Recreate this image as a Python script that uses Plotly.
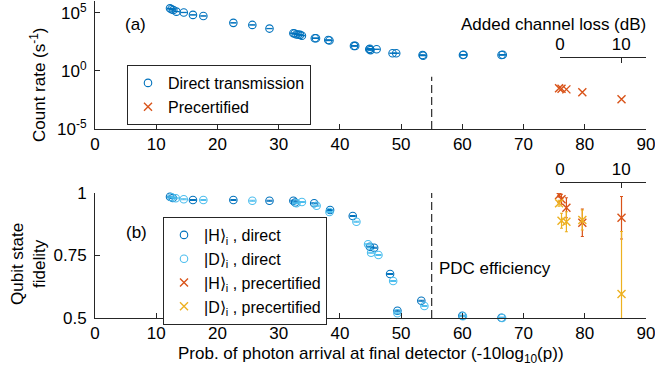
import plotly.graph_objects as go

# ---------------- data ----------------
# (a) count rate, direct transmission
direct_x = [12.25, 12.5, 12.8, 13.3, 14.5, 16.0, 17.7, 22.6, 25.7, 28.5,
            32.4, 32.6, 32.9, 33.2, 33.5, 33.8, 35.9, 36.1, 38.1, 38.3,
            42.3, 42.5, 44.8, 44.9, 45.0, 46.0, 48.6, 49.2, 53.5, 53.6,
            60.1, 60.2, 66.4, 66.6]
direct_rate = [2.5e5, 2.1e5, 1.8e5, 1.3e5, 1.1e5, 6.8e4, 5.5e4, 1.4e4, 9.3e3, 4.5e3,
               1.8e3, 1.7e3, 1.4e3, 1.4e3, 1.3e3, 1.1e3, 660, 660, 470, 420,
               145, 145, 74, 83, 63, 74, 34, 34, 24, 21,
               24, 25, 24, 25]
# (a) count rate, precertified
pre_x = [75.8, 76.2, 77.0, 79.6, 86.0]
pre_rate = [0.032, 0.030, 0.026, 0.015, 0.0036]

# (b) fidelities, direct
h_dir_x = [12.25, 12.7, 16.0, 22.6, 28.5, 32.4, 32.7, 35.8, 38.4, 42.1,
           44.9, 45.6, 48.2, 49.4, 53.3, 60.0, 66.4]
h_dir_f = [0.985, 0.980, 0.972, 0.972, 0.969, 0.969, 0.962, 0.959, 0.932, 0.908,
           0.785, 0.781, 0.676, 0.529, 0.569, 0.509, 0.501]
d_dir_x = [12.5, 13.2, 14.5, 17.7, 25.7, 32.9, 33.8, 36.2, 38.3, 42.7,
           44.6, 45.1, 46.3, 48.7, 49.4, 53.8, 60.1, 66.5]
d_dir_f = [0.983, 0.979, 0.975, 0.972, 0.969, 0.959, 0.964, 0.949, 0.924, 0.885,
           0.795, 0.761, 0.752, 0.648, 0.519, 0.548, 0.507, 0.500]
# (b) fidelities, precertified
h_pre_f = [0.992, 0.975, 0.941, 0.881, 0.901]
h_pre_err = [0.008, 0.02, 0.04, 0.055, 0.085]
d_pre_f = [0.959, 0.889, 0.885, 0.892, 0.596]
d_pre_err = [0.012, 0.03, 0.04, 0.04, 0.25]

pdc_x = 55
x_ticks = list(range(0, 91, 10))
loss_ticks = [0, 10]

# ---------------- style ----------------
FONT = "Liberation Sans, Arial, Helvetica, sans-serif"
AX = "#262626"
BLUE = "#0072BD"
LBLUE = "#4DBEEE"
ORANGE = "#D95319"
YELLOW = "#EDB120"

fig = go.Figure()

# (a)
fig.add_trace(go.Scatter(
    x=direct_x, y=direct_rate, mode="markers", name="Direct transmission",
    marker=dict(symbol="circle-open", size=7.5, color=BLUE, line=dict(width=1.1)),
    error_y=dict(type="percent", value=3, color=BLUE, thickness=1, width=3),
    xaxis="x", yaxis="y", legend="legend", cliponaxis=False))
fig.add_trace(go.Scatter(
    x=pre_x, y=pre_rate, mode="markers", name="Precertified",
    marker=dict(symbol="x-thin-open", size=8, color=ORANGE, line=dict(width=1.4, color=ORANGE)),
    xaxis="x", yaxis="y", legend="legend", cliponaxis=False))
fig.add_trace(go.Scatter(
    x=[pdc_x, pdc_x], y=[1e-5, 10 ** -0.5], mode="lines", showlegend=False,
    line=dict(color="black", width=1, dash="8px,4px"), hoverinfo="skip",
    xaxis="x", yaxis="y"))

# (b)
fig.add_trace(go.Scatter(
    x=h_dir_x, y=h_dir_f, mode="markers", name="|H\u27e9<sub>i</sub> , direct",
    marker=dict(symbol="circle-open", size=7.5, color=BLUE, line=dict(width=1.1)),
    error_y=dict(type="constant", value=0.002, color=BLUE, thickness=1, width=3),
    xaxis="x2", yaxis="y2", legend="legend2", legendgroup="a", cliponaxis=False))
fig.add_trace(go.Scatter(
    x=d_dir_x, y=d_dir_f, mode="markers", name="|D\u27e9<sub>i</sub> , direct",
    marker=dict(symbol="circle-open", size=7.5, color=LBLUE, line=dict(width=1.1)),
    error_y=dict(type="constant", value=0.002, color=LBLUE, thickness=1, width=3),
    xaxis="x2", yaxis="y2", legend="legend2", legendgroup="b", cliponaxis=False))
fig.add_trace(go.Scatter(
    x=pre_x, y=h_pre_f, mode="markers", name="|H\u27e9<sub>i</sub> , precertified",
    marker=dict(symbol="x-thin-open", size=8, color=ORANGE, line=dict(width=1.4, color=ORANGE)),
    error_y=dict(type="data", array=h_pre_err, color=ORANGE, thickness=1.2, width=1.5),
    xaxis="x2", yaxis="y2", legend="legend2", legendgroup="c", cliponaxis=True))
fig.add_trace(go.Scatter(
    x=pre_x, y=d_pre_f, mode="markers", name="|D\u27e9<sub>i</sub> , precertified",
    marker=dict(symbol="x-thin-open", size=8, color=YELLOW, line=dict(width=1.4, color=YELLOW)),
    error_y=dict(type="data", array=d_pre_err, color=YELLOW, thickness=1.2, width=1.5),
    xaxis="x2", yaxis="y2", legend="legend2", legendgroup="d", cliponaxis=True))
fig.add_trace(go.Scatter(
    x=[pdc_x, pdc_x], y=[0.5, 1.0], mode="lines", showlegend=False,
    line=dict(color="black", width=1, dash="8px,4px"), hoverinfo="skip",
    xaxis="x2", yaxis="y2"))

# dummy traces to host the "added channel loss" axes
fig.add_trace(go.Scatter(x=[None], y=[None], xaxis="x3", yaxis="y", showlegend=False, hoverinfo="skip"))
fig.add_trace(go.Scatter(x=[None], y=[None], xaxis="x4", yaxis="y2", showlegend=False, hoverinfo="skip"))

common = dict(showline=True, linecolor=AX, linewidth=1, showgrid=False, zeroline=False,
              ticks="inside", ticklen=5, tickcolor=AX, tickwidth=1, automargin=False,
              tickfont=dict(size=17, color="black", family=FONT))

# pixel geometry helpers (plot area: x 95..646, y 1..318 px)
def py(p):
    return (318 - p) / 317.0

def px(p):
    return (p - 95) / 551.0

loss_range = [0, (646 - 560) / 6.122]

fig.update_layout(
    template="none",
    width=655, height=372,
    margin=dict(l=95, r=9, t=1, b=54, autoexpand=False),
    paper_bgcolor="white", plot_bgcolor="rgba(0,0,0,0)",
    font=dict(family=FONT, size=16, color="black"),
    xaxis=dict(domain=[0, 1], range=[0, 90], anchor="y", tickvals=x_ticks,
               ticklabeloverflow="allow", **common),
    yaxis=dict(domain=[py(129), 1], type="log", range=[-5, 6.03], anchor="x",
               tickvals=[1e-5, 1, 1e5],
               ticktext=["10<sup>-5</sup>", "10<sup>0</sup>", "10<sup>5</sup>"],
               ticklabelstandoff=4, ticklabeloverflow="allow", **common),
    xaxis2=dict(domain=[0, 1], range=[0, 90], anchor="y2", tickvals=x_ticks,
                ticklabeloverflow="allow", **common),
    yaxis2=dict(domain=[0, py(193)], range=[0.5, 1], anchor="x2",
                tickvals=[0.5, 0.75, 1], ticktext=["0.5", "0.75", "1"],
                ticklabelstandoff=4, **common),
    xaxis3=dict(domain=[px(560), 1], range=loss_range, anchor="free", position=py(56.5),
                side="top", tickvals=loss_ticks, ticklabeloverflow="allow", **common),
    xaxis4=dict(domain=[px(560), 1], range=loss_range, anchor="free", position=py(181.7),
                side="top", tickvals=loss_ticks, ticklabeloverflow="allow", **common),
    legend=dict(x=px(127), y=py(65), xanchor="left", yanchor="top",
                bordercolor=AX, borderwidth=1, bgcolor="white",
                font=dict(size=16, family=FONT, color="black")),
    legend2=dict(x=px(163), y=py(217), xanchor="left", yanchor="top",
                 bordercolor=AX, borderwidth=1, bgcolor="white", tracegroupgap=0,
                 font=dict(size=16, family=FONT, color="black")),
    showlegend=True,
)

ann = [
    dict(text="Added channel loss (dB)", x=px(648), y=py(25), xanchor="right", yanchor="middle", font=dict(size=17)),
    dict(text="(a)", x=px(135), y=py(25), xanchor="center", yanchor="middle", font=dict(size=17)),
    dict(text="(b)", x=px(136), y=py(232), xanchor="center", yanchor="middle", font=dict(size=17)),
    dict(text="PDC efficiency", x=px(437), y=py(268), xanchor="left", yanchor="middle", font=dict(size=17)),
    dict(text="Count rate (s<sup>-1</sup>)", x=px(38), y=py(85), xanchor="center", yanchor="middle",
         textangle=-90, font=dict(size=17)),
    dict(text="Qubit state<br>fidelity", x=px(28), y=py(264), xanchor="center", yanchor="middle",
         textangle=-90, font=dict(size=17)),
    dict(text="Prob. of photon arrival at final detector (-10log<sub>10</sub>(p))", x=0.5, y=py(355),
         xanchor="center", yanchor="middle", font=dict(size=17)),
]
for a in ann:
    a.update(xref="paper", yref="paper", showarrow=False)
    a["font"] = dict(family=FONT, color="black", **a["font"])
fig.update_layout(annotations=ann)

fig.write_html("out.html")
